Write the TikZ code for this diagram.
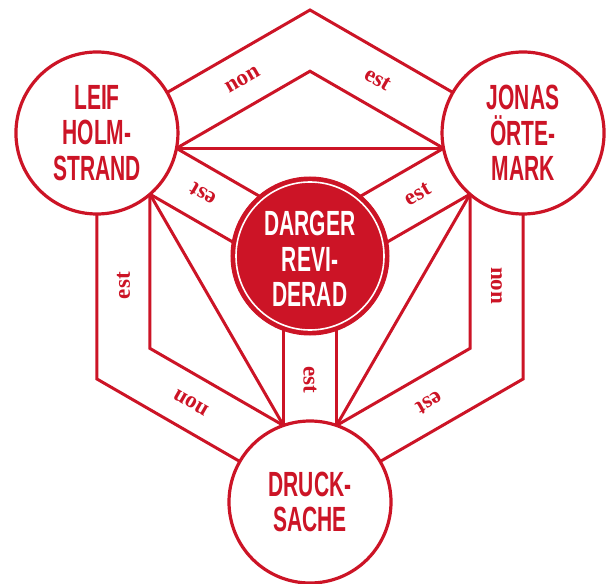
\documentclass[tikz,border=0pt]{standalone}
\usepackage{fontspec}
\usetikzlibrary{calc}
\newfontfamily\condfont[FakeStretch=0.6]{Liberation Sans}
\newfontfamily\wordfont{Liberation Serif}
\definecolor{shieldred}{RGB}{204,20,38}
\tikzset{
  bandline/.style={draw=shieldred, line width=3pt, line join=miter},
  outercirc/.style={circle, draw=shieldred, fill=white, line width=3.2pt,
    minimum size=162pt, inner sep=0pt, text=shieldred, align=center,
    font=\condfont\bfseries\fontsize{35}{35.5}\selectfont},
  centerdisk/.style={circle, draw=shieldred, fill=shieldred, line width=1pt,
    minimum size=158pt, inner sep=0pt},
  centertext/.style={text=white, align=center, inner sep=0pt,
    font=\condfont\bfseries\fontsize{35}{35.5}\selectfont},
  word/.style={text=shieldred, inner sep=0pt, font=\wordfont\bfseries\fontsize{23}{23}\selectfont}
}
\begin{document}
\begin{tikzpicture}[x=1pt,y=1pt]
\useasboundingbox (-310,-327) rectangle (297,256);
% centres, fan points, band ends
\foreach \n/\a in {L/150,R/30,D/270} {
  \coordinate (\n) at (\a:246);
  \coordinate (\n-cw) at ($(\a:246)+(\a+180:76.5)+(\a+270:26.5)$);
  \coordinate (\n-ccw) at ($(\a:246)+(\a+180:76.5)+(\a+90:26.5)$);
  \coordinate (\n-cwend) at ($(\n-cw)+(\a+180:150)$);
  \coordinate (\n-ccwend) at ($(\n-ccw)+(\a+180:150)$);
}
\coordinate (Atop) at (90:246);
\coordinate (Ar) at (-30:246);
\coordinate (Al) at (210:246);
\coordinate (Itop) at (90:184.8);
\coordinate (Ir) at (-30:184.8);
\coordinate (Il) at (210:184.8);
% outer hexagon
\draw[bandline] (L) -- (Atop) -- (R) -- (Ar) -- (D) -- (Al) -- cycle;
% inner chevrons
\draw[bandline] (L-cw) -- (Itop) -- (R-ccw);
\draw[bandline] (R-cw) -- (Ir) -- (D-ccw);
\draw[bandline] (D-cw) -- (Il) -- (L-ccw);
% straight lines between fan points
\draw[bandline] (L-cw) -- (R-ccw);
\draw[bandline] (R-cw) -- (D-ccw);
\draw[bandline] (D-cw) -- (L-ccw);
% bands to the centre
\foreach \n in {L,R,D} {
  \draw[bandline] (\n-cw) -- (\n-cwend);
  \draw[bandline] (\n-ccw) -- (\n-ccwend);
}
% circles
\node[outercirc] (Lc) at (L) {LEIF\\HOLM-\\STRAND};
\node[outercirc] (Rc) at (R) {JONAS\\ÖRTE-\\MARK};
\node[outercirc] (Dc) at (D) {DRUCK-\\SACHE};
\node[centerdisk] (Cc) at (0,0) {};
\draw[white, line width=1.6pt] (Cc.center) circle (74);
\node[centertext] (Ct) at (0,-3) {DARGER\\REVI-\\DERAD};
% outer band words
\foreach \p/\ang in {a/90,b/-30,c/210} {
  \node[word, rotate=\ang-60] (non\p) at ($(\ang:215.4)+(\ang+120:78)$) {non};
  \node[word, rotate=\ang-120] (est\p) at ($(\ang:215.4)+(\ang-120:78)$) {est};
}
% inner band words
\foreach \p/\a in {a/150,b/30,c/270} {
  \node[word, rotate=\a] (inest\p) at (\a:124) {est};
}
\end{tikzpicture}
\end{document}
